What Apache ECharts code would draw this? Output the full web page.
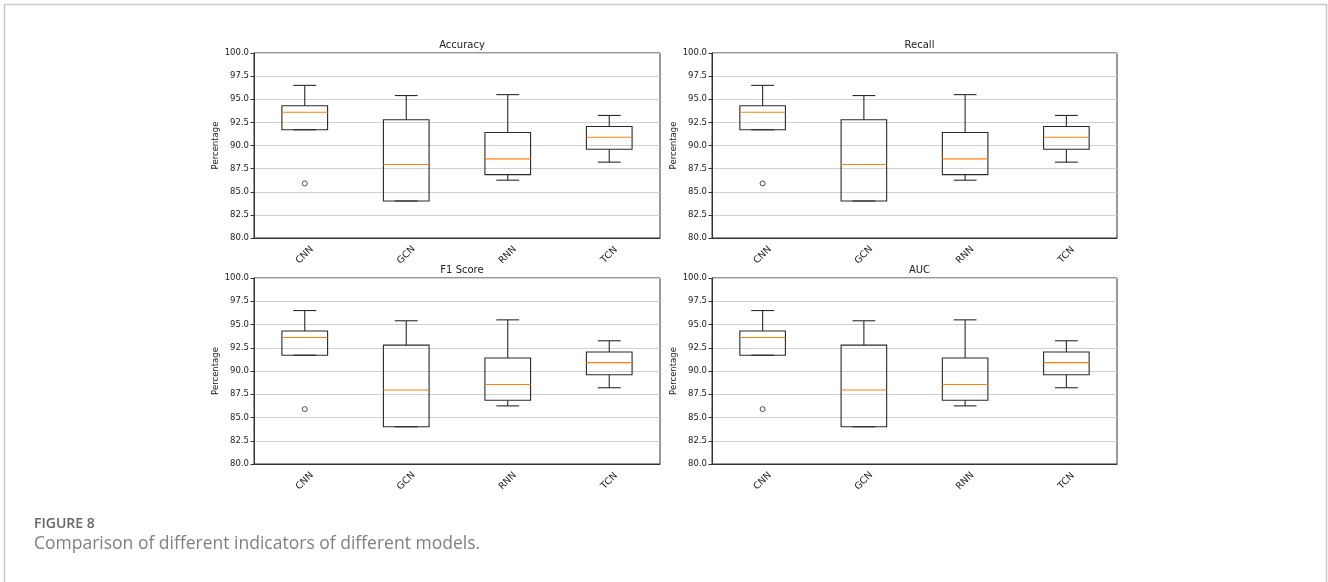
<!DOCTYPE html>
<html>
<head>
<meta charset="utf-8">
<script src="https://cdn.jsdelivr.net/npm/echarts@6/dist/echarts.min.js"></script>
<style>
  html, body { margin: 0; padding: 0; background: #fff; }
  #main { width: 1328px; height: 582px; }
</style>
</head>
<body>
<div id="main"></div>
<script>
// data (all four panels look the same)
const models = ['CNN', 'GCN', 'RNN', 'TCN'];
const metrics = ['Accuracy', 'Recall', 'F1 Score', 'AUC'];
const whiskerLow = [91.7, 84.0, 86.25, 88.2];
const q1 = [91.7, 84.0, 86.85, 89.6];
const medians = [93.6, 87.95, 88.55, 90.9];
const q3 = [94.3, 92.78, 91.4, 92.05];
const whiskerHigh = [96.5, 95.4, 95.5, 93.25];
const outlierModels = ['CNN'];
const outlierValues = [85.9];
const yMin = 80, yMax = 100, yStep = 2.5;

const font = 'DejaVu Sans';
const ink = '#222';
const panels = [
  { left: 254, top: 53, width: 406, height: 185 },
  { left: 712, top: 53, width: 405, height: 185 },
  { left: 254, top: 278, width: 406, height: 186 },
  { left: 712, top: 278, width: 405, height: 186 }
];

const boxRows = models.map((m, i) => [i, whiskerLow[i], q1[i], medians[i], q3[i], whiskerHigh[i]]);

function renderBox(params, api) {
  const i = api.value(0);
  const band = api.size([1, 0])[0];
  const half = band * 0.45 / 2;
  const cap = half / 2;
  const lo = api.coord([i, api.value(1)]);
  const b1 = api.coord([i, api.value(2)]);
  const md = api.coord([i, api.value(3)]);
  const b3 = api.coord([i, api.value(4)]);
  const hi = api.coord([i, api.value(5)]);
  const x = lo[0];
  const stroke = { stroke: '#2a2a2a', lineWidth: 1.1, fill: null };
  return {
    type: 'group',
    children: [
      { type: 'line', shape: { x1: x, y1: b1[1], x2: x, y2: lo[1] }, style: stroke },
      { type: 'line', shape: { x1: x, y1: b3[1], x2: x, y2: hi[1] }, style: stroke },
      { type: 'line', shape: { x1: x - cap, y1: lo[1], x2: x + cap, y2: lo[1] }, style: stroke },
      { type: 'line', shape: { x1: x - cap, y1: hi[1], x2: x + cap, y2: hi[1] }, style: stroke },
      { type: 'rect', shape: { x: x - half, y: b3[1], width: half * 2, height: b1[1] - b3[1] }, style: stroke },
      { type: 'line', shape: { x1: x - half, y1: md[1], x2: x + half, y2: md[1] }, style: { stroke: '#ff7f0e', lineWidth: 1.1 } }
    ]
  };
}

const option = {
  animation: false,
  backgroundColor: '#fff',
  title: metrics.map((t, k) => ({
    text: t,
    left: panels[k].left + panels[k].width / 2,
    top: panels[k].top - 18,
    textAlign: 'center',
    textStyle: { fontFamily: font, fontSize: 10, fontWeight: 'normal', color: ink }
  })),
  grid: panels.map(p => Object.assign({ show: true, borderColor: '#333', borderWidth: 1, backgroundColor: 'transparent' }, p)),
  xAxis: panels.map((p, k) => ({
    type: 'category',
    gridIndex: k,
    data: models,
    axisLine: { lineStyle: { color: '#333' } },
    axisTick: { alignWithLabel: true, length: 3.5, lineStyle: { color: '#333' } },
    axisLabel: { rotate: 45, align: 'center', verticalAlign: 'middle', margin: 17, fontFamily: font, fontSize: 9.5, color: ink },
    splitLine: { show: false }
  })),
  yAxis: panels.map((p, k) => ({
    type: 'value',
    gridIndex: k,
    min: yMin, max: yMax, interval: yStep,
    name: 'Percentage',
    nameLocation: 'middle',
    nameRotate: 90,
    nameGap: 32,
    nameTextStyle: { fontFamily: font, fontSize: 8.5, color: ink },
    axisLine: { show: true, lineStyle: { color: '#333' } },
    axisTick: { show: true, length: 3.5, lineStyle: { color: '#333' } },
    axisLabel: { formatter: v => v.toFixed(1), margin: 5, fontFamily: font, fontSize: 8.5, color: ink },
    splitLine: { show: true, lineStyle: { color: '#d0d0d0', width: 1 } }
  })),
  series: panels.flatMap((p, k) => [
    {
      type: 'custom',
      xAxisIndex: k, yAxisIndex: k,
      renderItem: renderBox,
      encode: { x: 0, y: [1, 2, 3, 4, 5] },
      data: boxRows,
      z: 3
    },
    {
      type: 'scatter',
      xAxisIndex: k, yAxisIndex: k,
      symbol: 'circle',
      symbolSize: 5,
      itemStyle: { color: 'rgba(0,0,0,0)', borderColor: ink, borderWidth: 1 },
      data: outlierModels.map((m, i) => [m, outlierValues[i]]),
      z: 4
    }
  ]),
  graphic: [
    {
      type: 'polyline',
      shape: { points: [[4.5, 582], [4.5, 4.5], [1326.5, 4.5], [1326.5, 582]] },
      style: { stroke: '#c8c8c8', lineWidth: 1.5, fill: null }
    },
    {
      type: 'text', left: 34, top: 517,
      style: { text: 'FIGURE 8', fontFamily: 'Open Sans', fontSize: 14, fontWeight: 600, fill: '#666' }
    },
    {
      type: 'text', left: 34, top: 535,
      style: { text: 'Comparison of different indicators of different models.', fontFamily: 'Open Sans', fontSize: 17.5, fill: '#808080' }
    }
  ]
};

const chart = echarts.init(document.getElementById('main'));
chart.setOption(option);
</script>
</body>
</html>
